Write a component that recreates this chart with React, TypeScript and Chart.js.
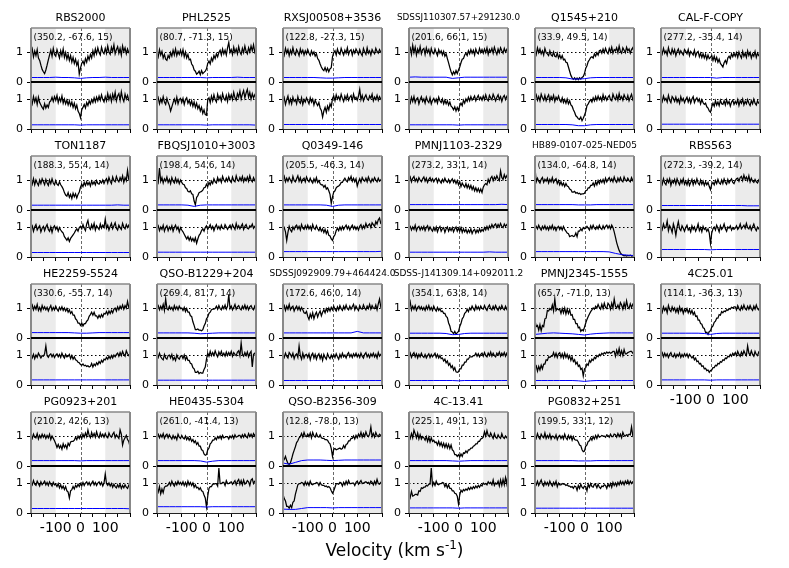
import React, { useEffect, useRef } from 'react';
import { Chart, registerables } from 'chart.js';

Chart.register(...registerables);

// ---------- axes / grid values ----------
const VELOCITY_MIN = -200;
const VELOCITY_STEP = 5; // flux sampling (km/s)
const ERR_STEP = 25; // error-spectrum sampling (km/s)
const X_TICKS = [-200, -150, -100, -50, 0, 50, 100, 150, 200];
const X_TICK_LABELS = [-100, 0, 100];
const Y_TICKS = [0, 1];
const SHADE_BANDS = [[-200, -100], [100, 200]];
const TOP_YMAX = 1.8;
const BOT_YMAX = 1.567;

// ---------- panel names / annotations ----------
const NAMES = [
  'RBS2000', 'PHL2525', 'RXSJ00508+3536', 'SDSSJ110307.57+291230.0', 'Q1545+210', 'CAL-F-COPY',
  'TON1187', 'FBQSJ1010+3003', 'Q0349-146', 'PMNJ1103-2329', 'HB89-0107-025-NED05', 'RBS563',
  'HE2259-5524', 'QSO-B1229+204', 'SDSSJ092909.79+464424.0', 'SDSS-J141309.14+092011.2', 'PMNJ2345-1555', '4C25.01',
  'PG0923+201', 'HE0435-5304', 'QSO-B2356-309', '4C-13.41', 'PG0832+251',
];
const ANNOTATIONS = [
  '(350.2, -67.6, 15)', '(80.7, -71.3, 15)', '(122.8, -27.3, 15)', '(201.6, 66.1, 15)', '(33.9, 49.5, 14)', '(277.2, -35.4, 14)',
  '(188.3, 55.4, 14)', '(198.4, 54.6, 14)', '(205.5, -46.3, 14)', '(273.2, 33.1, 14)', '(134.0, -64.8, 14)', '(272.3, -39.2, 14)',
  '(330.6, -55.7, 14)', '(269.4, 81.7, 14)', '(172.6, 46.0, 14)', '(354.1, 63.8, 14)', '(65.7, -71.0, 13)', '(114.1, -36.3, 13)',
  '(210.2, 42.6, 13)', '(261.0, -41.4, 13)', '(12.8, -78.0, 13)', '(225.1, 49.1, 13)', '(199.5, 33.1, 12)',
];
const TITLE_SIZES = [11, 11, 11, 8.8, 11, 11, 11, 11, 11, 11, 9, 11, 11, 11, 9, 9, 11, 11, 11, 11, 11, 11, 11];

// ---------- normalized flux (x100), v = -200..200 step 5 ----------
const P01_UP = [97,110,84,103,88,108,80,72,56,42,34,28,40,56,74,90,106,86,112,92, 86,108,94,80,104,88,110,82,98,76,92,72,88,66,82,62,76,56,68,26, 46,62,70,58,78,66,86,74,92,80,104,88,110,94,114,98,90,116,100,94, 112,96,120,100,92,116,102,124,94,108,118,96,112,90,120,102,114,94,110,98, 94];
const P01_LO = [98,84,108,90,104,82,106,88,80,72,66,84,70,80,72,90,94,106,92,108, 96,112,88,104,92,110,86,100,84,96,80,94,78,90,72,86,68,80,60,52, 38,64,72,82,70,88,78,94,84,98,88,104,90,106,94,110,96,114,98,90, 108,94,118,98,112,92,116,100,122,94,110,118,96,124,102,92,116,100,112,96, 100];
const P02_UP = [98,84,108,90,102,80,92,76,72,88,80,98,86,106,90,110,88,102,92,106, 90,108,84,100,80,92,74,76,60,54,40,36,26,30,36,24,38,28,32,36, 44,62,70,60,80,70,88,78,94,84,98,106,90,110,94,106,90,114,132,98, 108,92,116,98,110,94,118,100,92,112,98,120,102,94,114,100,120,104,124,100, 112];
const P02_LO = [92,104,84,100,88,108,90,82,102,88,78,60,74,88,100,86,106,84,98,102, 88,102,82,98,104,86,96,80,94,76,90,72,86,68,78,60,72,52,64,48, 46,98,104,88,110,94,114,98,90,116,100,110,94,118,102,96,112,92,116,100, 114,98,122,104,96,118,106,126,100,116,128,104,120,132,106,122,100,118,104,114, 104];
const P03_UP = [104,90,112,96,108,88,106,94,114,96,90,108,100,88,110,96,106,90,104,94, 108,96,88,104,92,100,86,94,78,72,60,50,42,38,48,36,46,34,44,48, 84,98,104,90,110,96,92,112,100,90,106,96,114,92,104,108,90,106,96,110, 102,92,108,96,88,112,100,92,114,96,104,90,108,100,94,112,102,96,108,100, 94];
const P03_LO = [90,104,82,98,110,86,100,84,106,92,98,84,108,92,86,104,82,98,90,104, 94,84,104,90,100,80,96,86,78,88,70,62,40,60,72,56,76,64,84,74, 102,110,94,114,100,108,96,116,102,92,110,98,114,96,106,112,94,116,100,106, 96,110,132,98,112,94,106,114,100,96,110,102,116,94,106,98,112,96,108,100, 94];
const P04_UP = [106,114,92,122,98,116,90,110,98,118,94,108,112,92,114,98,108,90,112,98, 94,110,98,88,108,96,104,90,102,86,94,78,64,48,34,24,34,26,38,28, 40,50,64,76,78,90,96,88,104,94,108,96,106,90,110,98,94,112,98,108, 96,110,98,114,92,108,100,112,96,116,102,92,110,98,114,104,96,112,100,108, 98];
const P04_LO = [94,86,106,92,108,88,100,104,84,98,108,92,100,86,106,94,88,104,84,96, 102,90,100,86,106,94,88,100,84,96,84,94,80,90,76,72,64,74,60,72, 62,78,86,78,96,86,100,92,106,94,108,96,102,110,94,104,112,98,106,96, 110,98,114,100,94,112,104,98,116,106,94,106,114,98,108,92,106,112,98,108, 100];
const P05_UP = [106,92,114,98,110,94,104,90,112,98,94,88,104,90,86,100,86,84,96,80, 90,78,88,74,76,66,64,50,36,22,14,9,14,8,13,8,14,10,15,18, 28,46,54,68,74,82,84,80,94,86,98,90,104,106,96,110,98,112,100,94, 112,100,116,96,108,104,114,98,120,102,96,114,106,98,116,104,110,96,108,114, 100];
const P05_LO = [106,114,96,108,94,116,104,96,112,94,106,114,94,108,98,112,92,106,98,110, 96,90,104,88,98,86,100,84,94,80,76,64,56,44,40,34,32,40,28,36, 46,58,78,84,92,98,90,104,94,108,96,110,98,106,94,114,98,108,96,106, 112,98,94,116,104,98,112,96,118,100,108,96,114,104,98,112,94,106,116,98, 106];
const P06_UP = [108,94,112,96,104,90,114,98,92,110,96,108,88,102,110,94,104,96,90,108, 102,94,108,88,102,96,90,106,86,98,102,84,96,82,94,80,92,76,90,78, 82,88,72,86,70,82,66,76,62,56,50,64,72,62,80,86,78,94,84,96, 86,98,82,100,88,80,102,86,96,82,104,88,98,80,94,86,102,82,96,88, 84];
const P06_LO = [104,92,110,96,102,90,112,96,88,108,102,92,106,90,100,86,108,94,102,88, 98,106,90,102,86,100,108,88,98,104,92,100,84,98,88,82,86,74,70,60, 56,74,86,76,94,80,90,78,96,84,82,94,80,98,84,92,76,90,96,82, 92,84,98,78,94,86,100,80,92,84,98,86,78,94,84,100,86,80,94,86, 84];
const P07_UP = [98,86,104,84,100,90,82,100,88,104,94,84,102,90,82,100,88,104,90,84, 98,86,82,94,84,78,70,58,50,46,58,42,52,38,56,44,54,40,52,60, 76,86,78,92,82,94,84,92,80,96,86,94,84,98,88,86,96,90,100,88, 98,104,90,108,96,88,110,98,94,112,100,94,108,98,114,92,108,98,132,102, 98];
const P07_LO = [98,104,86,100,108,90,98,104,84,96,102,88,100,108,92,86,100,82,98,104, 92,100,86,98,90,84,80,68,62,56,64,52,62,68,74,80,88,94,86,98, 102,94,108,96,88,110,122,98,92,108,96,112,90,104,98,92,110,96,106,98, 126,96,106,90,102,112,94,104,114,96,90,106,98,92,112,100,94,108,98,106, 96];
const P08_UP = [102,92,140,96,108,90,104,96,110,92,102,88,108,96,90,106,92,102,88,100, 92,86,84,74,72,62,60,64,54,52,30,17,42,48,58,60,62,66,74,76, 86,78,92,84,96,88,104,94,90,108,96,104,92,112,100,94,106,96,110,98, 92,110,98,94,114,100,96,108,98,112,94,106,98,110,96,114,100,94,108,98, 106];
const P08_LO = [98,104,88,100,92,106,86,98,104,88,100,92,104,86,98,106,92,100,84,98, 90,84,76,68,60,68,56,66,54,62,52,64,46,60,72,78,88,94,86,98, 104,92,100,108,94,102,88,100,108,94,102,92,106,96,94,108,100,92,100,106, 94,108,100,92,112,96,104,94,102,110,92,102,108,96,94,104,100,110,96,102, 106];
const P09_UP = [102,112,94,106,96,108,100,92,112,98,94,104,114,96,108,92,102,106,94,110, 100,94,106,96,90,104,94,108,92,98,88,84,84,76,82,70,74,64,52,22, 44,60,64,74,78,80,84,92,92,100,106,98,94,108,100,112,96,106,94,104, 80,94,104,92,108,100,96,106,94,110,100,92,104,96,108,100,94,106,96,100, 106];
const P09_LO = [90,98,84,55,82,102,90,84,100,92,102,106,94,102,90,108,96,92,104,94, 106,94,102,90,108,96,92,104,94,88,98,86,94,82,92,78,88,72,70,60, 55,68,74,88,96,88,100,90,102,92,100,106,94,102,90,100,106,94,102,92, 100,90,102,108,94,104,96,112,100,106,110,98,114,108,102,118,110,124,130,112, 108];
const P10_UP = [102,110,94,106,112,96,104,94,108,100,94,104,110,96,106,92,102,108,96,104, 94,102,106,92,104,96,90,102,94,106,96,92,102,90,98,104,92,100,88,98, 84,94,78,90,82,76,88,74,84,72,82,68,78,64,74,62,72,60,70,58, 76,84,88,84,102,92,106,112,98,110,102,114,104,98,130,108,102,118,106,114, 104];
const P10_LO = [98,102,90,100,92,106,88,98,102,90,100,92,102,88,98,104,90,100,92,86, 98,88,100,84,96,102,86,94,98,82,94,100,86,96,88,98,84,94,100,86, 96,86,98,82,94,84,92,80,90,82,94,78,88,92,80,90,82,94,84,92, 86,98,90,102,92,104,96,108,98,106,110,98,108,100,112,102,98,110,102,108, 102];
const P11_UP = [140,94,106,96,90,102,108,92,102,96,106,90,102,94,108,92,100,104,88,98, 84,94,82,90,78,88,80,78,70,68,60,60,62,56,58,54,56,52,54,54, 56,64,66,74,74,82,82,90,80,94,84,98,88,100,92,102,90,106,94,102, 108,96,104,94,110,98,92,106,96,108,98,94,110,100,96,106,98,94,108,98, 106];
const P11_LO = [92,102,94,106,96,90,102,94,104,92,100,90,102,94,106,92,100,88,98,102, 92,100,90,102,92,86,80,78,68,70,72,68,70,80,68,86,86,94,88,98, 94,96,102,96,90,104,94,106,96,92,102,94,106,96,92,104,94,102,106,96, 104,94,106,98,84,66,48,34,22,14,9,6,4,5,3,5,4,6,3,4, 4];
const P12_UP = [98,86,104,90,84,102,92,104,82,98,90,102,86,104,92,84,100,90,104,86, 96,84,100,82,92,102,84,98,88,104,90,84,100,86,96,82,94,84,92,78, 68,86,92,84,98,88,102,90,86,100,88,104,92,86,102,90,98,104,92,88, 98,104,106,96,108,112,98,116,102,110,98,114,94,106,96,92,102,94,90,100, 92];
const P12_LO = [104,92,110,96,100,120,88,104,96,82,110,96,72,100,118,94,88,104,96,86, 98,106,90,96,84,104,92,100,86,96,110,88,98,84,102,92,96,86,94,80, 45,80,94,100,90,106,96,84,104,92,98,110,94,86,100,96,104,90,98,92, 96,104,92,98,110,94,100,106,96,112,98,94,104,90,100,110,96,88,100,94, 90];
const P13_UP = [102,110,94,106,96,112,92,102,90,108,96,104,94,102,90,100,108,92,102,94, 106,96,90,102,94,104,92,100,90,98,86,94,82,88,76,76,64,60,50,50, 42,50,40,48,48,56,60,72,78,86,76,86,74,74,66,76,68,78,70,82, 80,88,78,90,82,92,84,96,100,90,104,94,106,98,110,96,108,100,122,102, 110];
const P13_LO = [98,90,102,88,100,92,106,98,90,98,96,104,130,98,92,100,104,94,102,92, 100,104,94,102,92,106,96,90,102,94,96,102,88,98,86,94,84,82,76,74, 68,66,70,64,66,62,64,60,62,72,60,70,64,74,68,78,72,82,76,86, 84,92,86,96,88,98,90,100,94,102,106,96,108,98,112,102,96,114,104,98, 106];
const P14_UP = [102,108,94,106,96,112,92,130,98,94,106,96,102,92,108,96,104,94,106,98, 100,92,102,88,98,86,86,74,72,54,42,28,28,30,26,26,24,28,40,48, 64,70,82,86,94,96,96,98,106,96,108,98,94,106,98,110,96,106,145,98, 106,94,102,112,96,104,108,98,94,106,98,110,96,106,94,104,108,98,94,106, 98];
const P14_LO = [102,92,106,94,88,84,102,90,86,98,100,90,102,84,92,82,100,90,86,96, 98,88,100,84,94,82,82,72,70,58,54,42,42,46,38,42,40,40,52,60, 86,106,96,112,98,108,98,114,102,94,110,100,112,98,106,96,110,98,108,100, 112,96,108,102,98,110,114,98,140,102,96,108,98,110,94,106,112,60,102,106, 98];
const P15_UP = [102,108,92,106,96,112,94,102,106,90,100,106,94,104,92,102,94,84,82,88, 72,62,80,68,84,64,78,86,70,82,90,74,86,94,84,98,88,100,90,102, 94,106,96,90,104,94,108,98,92,106,96,110,98,94,106,96,104,112,94,106, 98,92,108,98,96,110,100,94,106,98,112,96,108,100,98,110,94,114,130,104, 112];
const P15_LO = [102,92,106,96,90,108,102,94,106,88,100,104,92,130,98,86,106,90,100,102, 92,104,84,100,106,90,102,86,98,104,88,100,82,102,92,86,104,94,88,100, 90,102,92,104,94,86,102,92,106,94,100,90,102,108,94,102,92,104,96,106, 94,102,92,106,96,90,102,108,94,102,92,104,96,106,94,102,90,108,96,102, 106];
const P16_UP = [102,120,94,106,96,108,92,102,106,96,104,94,102,92,106,96,108,94,102,92, 106,96,90,102,92,98,88,90,82,82,72,68,50,40,22,20,14,22,13,18, 22,38,48,64,70,82,86,96,88,100,94,106,98,92,108,96,104,94,106,98, 96,108,98,92,104,110,98,94,106,96,108,98,92,104,96,108,98,94,106,96, 104];
const P16_LO = [96,106,92,102,108,94,104,90,102,94,106,96,92,102,90,98,104,92,102,94, 100,106,92,102,90,98,88,90,80,86,74,80,66,72,58,64,50,58,44,42, 44,54,54,66,66,76,76,86,86,94,94,94,98,98,106,96,104,94,102,106, 96,108,98,94,106,98,110,96,106,98,94,106,100,110,96,106,98,108,96,106, 98];
const P17_UP = [58,38,42,26,44,24,42,38,64,66,92,90,98,94,110,90,130,92,98,94, 96,82,98,84,100,80,96,82,94,76,78,62,62,48,48,34,36,22,28,24, 36,50,62,72,80,88,94,100,96,106,100,112,102,96,112,98,116,102,98,116, 110,96,116,100,130,106,100,110,98,118,110,96,116,100,124,104,98,114,102,112, 106];
const P17_LO = [60,64,46,62,50,66,54,70,70,84,82,94,92,96,96,108,94,106,92,104, 108,92,104,90,106,92,102,88,98,82,94,78,84,70,76,62,66,52,56,30, 54,58,70,66,82,76,86,82,92,88,98,94,102,98,106,102,108,104,110,106, 110,106,108,112,112,96,116,102,122,100,114,98,118,104,104,108,110,112,112,106, 108];
const P18_UP = [98,86,104,92,100,84,108,94,88,104,92,100,86,98,84,104,90,98,82,96, 88,98,84,94,82,92,78,86,72,74,60,60,48,46,34,32,18,19,12,22, 24,36,40,52,56,66,66,78,76,88,84,90,88,94,92,98,96,102,100,104, 104,94,108,98,92,106,96,110,98,94,106,96,108,98,92,106,96,110,98,94, 104];
const P18_LO = [102,108,94,106,96,104,92,102,108,96,94,104,92,102,96,106,92,102,94,104, 96,104,92,102,96,90,96,84,90,78,80,70,72,62,64,54,56,48,50,42, 48,50,58,58,66,64,72,70,78,76,84,82,90,88,96,94,102,96,106,100, 108,98,112,102,96,110,100,114,104,98,130,106,100,114,102,96,112,102,98,110, 104];
const P19_UP = [102,92,106,96,94,108,90,102,94,106,96,104,92,102,94,106,88,100,92,84, 74,62,72,60,68,56,74,62,70,58,76,68,80,82,82,86,96,88,100,92, 102,92,106,96,110,98,120,102,94,112,98,108,96,114,100,94,110,98,106,96, 108,98,94,110,100,96,106,112,94,104,98,92,120,106,70,86,94,102,88,82, 65];
const P19_LO = [102,94,108,96,92,106,98,90,104,94,100,106,94,102,92,104,96,90,102,94, 96,88,98,84,94,82,90,78,88,74,70,50,74,78,88,80,92,86,96,88, 98,90,102,92,100,104,94,102,92,100,106,94,102,92,100,104,94,102,90,100, 130,98,92,100,90,98,86,96,88,84,94,86,96,82,92,84,94,86,82,92, 86];
const P20_UP = [102,106,94,104,96,108,92,102,106,94,104,96,90,102,92,98,88,106,96,92, 102,94,90,100,88,96,86,94,82,88,78,84,72,78,66,66,54,52,40,36, 38,54,60,74,78,86,86,94,88,98,92,100,90,102,94,96,98,98,90,100, 94,102,92,104,96,98,102,102,94,104,96,106,98,94,108,98,106,96,108,100, 110];
const P20_LO = [82,70,88,64,80,68,86,90,90,94,102,92,106,96,90,102,94,106,96,102, 94,104,92,102,90,106,94,102,92,100,86,94,84,86,78,84,74,72,60,50, 20,56,82,88,88,96,96,98,98,90,150,98,98,102,102,92,108,98,98,102, 104,96,102,108,94,106,112,96,108,94,110,96,100,108,104,92,110,114,98,106, 108];
const P21_UP = [28,22,32,18,8,5,10,24,40,52,64,78,84,94,98,108,96,112,100,98, 106,98,110,94,112,100,96,108,98,96,104,94,92,92,88,88,86,78,74,58, 32,56,58,54,56,58,60,56,58,68,60,72,74,84,84,92,92,100,90,102, 94,106,98,112,96,108,98,114,102,98,106,130,98,108,96,112,102,98,106,102, 104];
const P21_LO = [62,48,40,22,22,16,26,18,36,40,62,78,94,98,98,102,100,92,104,94, 102,92,106,96,94,98,98,102,100,92,102,94,92,92,88,90,86,88,84,74, 66,74,86,98,98,96,102,100,90,102,94,106,96,108,98,98,100,100,92,102, 106,96,102,108,98,100,102,104,100,102,96,106,102,94,106,96,112,98,96,102, 98];
const P22_UP = [104,92,108,94,120,108,94,110,90,104,90,98,94,86,98,82,96,80,94,82, 86,78,80,70,82,68,78,64,76,62,74,60,72,58,70,54,50,38,38,32, 38,30,40,32,44,42,50,44,54,54,60,60,66,68,74,74,82,82,90,92, 96,114,100,118,102,98,110,100,92,108,96,92,104,96,92,108,96,92,100,94, 94];
const P22_LO = [66,52,72,56,58,62,62,60,74,72,84,82,86,86,92,90,96,96,150,92, 102,92,106,96,94,98,98,102,100,88,96,84,94,82,82,74,74,66,64,56, 30,60,76,70,78,74,80,76,84,78,86,80,88,82,90,84,92,86,94,90, 100,96,98,94,104,98,102,94,110,92,100,96,106,90,110,92,112,94,118,98, 130];
const P23_UP = [102,92,108,96,90,106,98,94,110,92,102,94,106,90,100,98,92,104,88,98, 102,92,100,90,106,94,88,102,92,100,86,98,88,86,86,80,70,68,54,48, 50,66,70,82,84,94,86,98,90,102,92,104,96,98,102,100,100,96,104,102, 96,106,98,98,106,104,96,108,98,106,94,112,102,100,104,102,106,104,130,102, 110];
const P23_LO = [102,94,106,92,102,110,96,90,104,94,102,92,106,96,90,102,94,106,88,100, 94,94,98,96,96,92,94,90,90,86,88,82,90,88,76,92,82,96,86,82, 90,88,74,96,86,98,88,86,96,94,84,96,86,82,90,88,94,92,82,96, 88,98,86,102,92,100,90,102,94,106,96,104,94,106,98,108,96,106,98,104, 102];

// ---------- flux errors (x100), v = -200..200 step 25 ----------
const E01_UP = [15,15,15,15,16,15,15,14,12,14,15,15,16,15,15,15,15];
const E01_LO = [14,14,14,14,14,14,14,14,13,14,14,14,14,14,14,14,14];
const E02_UP = [15,15,15,15,15,15,15,15,14,15,15,15,15,16,15,15,15];
const E02_LO = [14,14,14,14,14,14,14,14,13,14,14,14,14,14,14,14,13];
const E03_UP = [15,15,15,15,15,15,14,13,13,14,15,15,15,15,15,15,15];
const E03_LO = [15,15,15,15,15,15,15,15,15,15,15,15,15,15,15,15,15];
const E04_UP = [16,17,16,16,16,16,16,12,14,16,16,16,16,16,16,16,16];
const E04_LO = [14,14,14,14,14,14,14,14,13,14,14,14,14,14,14,14,14];
const E05_UP = [15,15,15,15,15,14,10,10,11,14,15,15,15,15,15,15,15];
const E05_LO = [15,15,15,15,15,15,14,11,11,14,15,15,15,15,15,15,15];
const E06_UP = [15,15,15,15,15,15,15,15,15,13,15,15,15,15,15,15,15];
const E06_LO = [16,16,16,16,16,16,16,16,16,16,16,16,16,16,16,16,16];
const E07_UP = [16,16,16,16,16,16,16,16,16,16,16,16,16,16,17,16,16];
const E07_LO = [15,15,15,15,15,15,15,15,15,15,15,15,15,15,15,15,15];
const E08_UP = [17,17,17,17,17,16,12,16,17,17,17,17,17,17,17,17,17];
const E08_LO = [16,16,16,16,16,16,16,16,16,16,16,16,16,16,16,16,16];
const E09_UP = [17,17,17,17,17,17,17,16,12,16,17,17,17,17,17,17,17];
const E09_LO = [18,18,18,18,18,18,18,18,18,18,18,18,18,18,18,18,19];
const E10_UP = [18,18,18,18,18,18,18,18,18,18,18,18,18,18,18,19,18];
const E10_LO = [16,16,16,16,16,16,16,16,16,16,16,16,16,17,16,16,16];
const E11_UP = [18,18,18,18,18,18,18,17,17,17,18,18,18,18,18,18,18];
const E11_LO = [18,18,18,18,18,18,18,18,18,18,18,18,17,12,8,6,5];
const E12_UP = [15,15,15,15,15,15,15,15,15,15,15,15,15,15,14,14,14];
const E12_LO = [25,25,25,25,25,25,25,25,24,25,25,25,25,25,25,25,25];
const E13_UP = [18,18,18,18,18,18,18,17,16,16,17,18,18,18,18,18,18];
const E13_LO = [17,17,17,17,17,17,17,17,17,17,17,17,17,17,17,17,17];
const E14_UP = [17,17,17,17,17,17,16,14,15,16,17,17,17,17,17,17,17];
const E14_LO = [16,16,16,16,16,16,16,16,16,16,16,16,16,16,16,16,16];
const E15_UP = [17,17,17,17,17,17,17,17,17,17,17,17,22,17,17,17,17];
const E15_LO = [15,15,15,15,15,15,15,15,15,15,15,15,15,15,15,15,15];
const E16_UP = [16,16,16,16,16,16,15,11,12,15,16,16,16,16,16,16,16];
const E16_LO = [15,15,15,15,15,15,15,15,14,15,15,15,15,15,15,15,15];
const E17_UP = [12,14,16,17,16,15,14,12,10,13,15,16,17,17,17,17,17];
const E17_LO = [15,15,15,15,15,15,15,14,12,14,15,15,15,15,15,15,15];
const E18_UP = [16,16,16,16,16,16,16,15,12,15,16,16,16,16,16,16,16];
const E18_LO = [17,17,17,17,17,17,17,17,16,17,17,17,17,17,17,17,17];
const E19_UP = [18,18,18,18,18,18,18,18,17,18,18,18,18,18,18,18,18];
const E19_LO = [15,15,15,15,15,15,15,15,15,15,15,15,15,15,15,15,14];
const E20_UP = [18,18,18,18,18,18,18,17,13,16,18,18,18,18,18,18,18];
const E20_LO = [21,21,21,21,21,21,21,21,20,21,21,21,21,21,21,21,21];
const E21_UP = [10,6,12,18,20,20,20,19,18,19,20,20,20,20,20,20,20];
const E21_LO = [13,12,12,15,18,18,18,18,17,18,18,18,18,18,18,18,18];
const E22_UP = [18,18,18,18,18,18,18,17,16,17,18,18,18,18,18,18,18];
const E22_LO = [17,17,17,17,17,17,17,17,16,17,17,17,17,17,17,17,17];
const E23_UP = [18,18,18,18,18,18,18,17,17,17,18,18,18,18,18,18,18];
const E23_LO = [16,16,16,16,16,16,16,16,16,16,16,16,16,16,16,16,16];

const FLUX_UP = [P01_UP,P02_UP,P03_UP,P04_UP,P05_UP,P06_UP,P07_UP,P08_UP,P09_UP,P10_UP,P11_UP,P12_UP,P13_UP,P14_UP,P15_UP,P16_UP,P17_UP,P18_UP,P19_UP,P20_UP,P21_UP,P22_UP,P23_UP];
const FLUX_LO = [P01_LO,P02_LO,P03_LO,P04_LO,P05_LO,P06_LO,P07_LO,P08_LO,P09_LO,P10_LO,P11_LO,P12_LO,P13_LO,P14_LO,P15_LO,P16_LO,P17_LO,P18_LO,P19_LO,P20_LO,P21_LO,P22_LO,P23_LO];
const ERR_UP = [E01_UP,E02_UP,E03_UP,E04_UP,E05_UP,E06_UP,E07_UP,E08_UP,E09_UP,E10_UP,E11_UP,E12_UP,E13_UP,E14_UP,E15_UP,E16_UP,E17_UP,E18_UP,E19_UP,E20_UP,E21_UP,E22_UP,E23_UP];
const ERR_LO = [E01_LO,E02_LO,E03_LO,E04_LO,E05_LO,E06_LO,E07_LO,E08_LO,E09_LO,E10_LO,E11_LO,E12_LO,E13_LO,E14_LO,E15_LO,E16_LO,E17_LO,E18_LO,E19_LO,E20_LO,E21_LO,E22_LO,E23_LO];

// ---------- layout ----------
const COL_LEFT = [31, 157, 283, 409, 535, 661];
const ROW_TOP = [28, 156, 284, 412];
const PANEL_W = 99;
const TOP_H = 54;
const BOT_H = 47;
const PAD_L = 30;
const PAD_T = 24;
const PAD_R = 30;
const AXIS_H = 30;
const CANVAS_W = PAD_L + PANEL_W + PAD_R;
const CANVAS_H = PAD_T + TOP_H + BOT_H + AXIS_H;
const FONT = '"DejaVu Sans", Verdana, sans-serif';

function toPoints(vals: number[], step: number) {
  return vals.map((v, i) => ({ x: VELOCITY_MIN + i * step, y: v / 100 }));
}

const decorPlugin = {
  id: 'decor',
  beforeDatasetsDraw(chart: any) {
    const { ctx, chartArea, scales } = chart;
    const x = scales.x;
    ctx.save();
    ctx.fillStyle = '#ebebeb';
    for (const [a, b] of SHADE_BANDS) {
      const x0 = x.getPixelForValue(a);
      const x1 = x.getPixelForValue(b);
      ctx.fillRect(x0, chartArea.top, x1 - x0, chartArea.bottom - chartArea.top);
    }
    ctx.setLineDash([1.5, 2.5]);
    ctx.strokeStyle = '#000';
    ctx.lineWidth = 1.2;
    for (const id of ['yTop', 'yBot']) {
      const y = Math.round(scales[id].getPixelForValue(1)) + 0.5;
      ctx.beginPath();
      ctx.moveTo(chartArea.left, y);
      ctx.lineTo(chartArea.right, y);
      ctx.stroke();
    }
    ctx.setLineDash([3, 2]);
    ctx.strokeStyle = '#444';
    ctx.lineWidth = 0.8;
    const xz = Math.round(x.getPixelForValue(0)) + 0.5;
    ctx.beginPath();
    ctx.moveTo(xz, chartArea.top);
    ctx.lineTo(xz, chartArea.bottom);
    ctx.stroke();
    ctx.restore();
  },
  afterDraw(chart: any, _args: any, opts: any) {
    const { ctx, chartArea, scales } = chart;
    const L = chartArea.left, R = chartArea.right;
    const T = scales.yTop.top, M = scales.yTop.bottom, B = scales.yBot.bottom;
    ctx.save();
    ctx.setLineDash([]);
    ctx.strokeStyle = '#888';
    ctx.lineWidth = 2;
    ctx.beginPath();
    ctx.moveTo(L, T); ctx.lineTo(L, B);
    ctx.moveTo(R, T); ctx.lineTo(R, B);
    ctx.stroke();
    ctx.lineWidth = 1.3;
    ctx.beginPath();
    ctx.moveTo(L, T); ctx.lineTo(R, T);
    ctx.stroke();
    ctx.strokeStyle = '#000';
    ctx.lineWidth = 2;
    ctx.beginPath();
    ctx.moveTo(L, M); ctx.lineTo(R, M);
    ctx.stroke();
    ctx.lineWidth = 1;
    ctx.strokeStyle = '#222';
    ctx.beginPath();
    ctx.moveTo(L, B + 0.5); ctx.lineTo(R, B + 0.5);
    ctx.stroke();
    ctx.fillStyle = '#000';
    ctx.textAlign = 'center';
    ctx.textBaseline = 'middle';
    ctx.font = `${opts.titleSize}px ${FONT}`;
    ctx.fillText(opts.title, (L + R) / 2, T - 10);
    ctx.textAlign = 'left';
    ctx.font = `9px ${FONT}`;
    ctx.fillText(opts.note, L + 2.5, T + 10);
    ctx.restore();
  },
};

function yScale(stackWeight: number, weight: number, max: number) {
  return {
    type: 'linear',
    position: 'left',
    stack: 'flux',
    stackWeight,
    weight,
    min: 0,
    max,
    afterBuildTicks: (s: any) => { s.ticks = Y_TICKS.map((v) => ({ value: v })); },
    afterFit: (s: any) => { s.width = PAD_L; },
    ticks: { color: '#000', font: { family: FONT, size: 11 }, padding: 4, callback: (v: any) => String(v) },
    grid: { drawOnChartArea: false, drawTicks: true, tickLength: 4, color: '#000', lineWidth: 1 },
    border: { display: false },
  };
}

function makeConfig(p: number, showX: boolean): any {
  const line = (data: any, axis: string, color: string, width: number) => ({
    data, yAxisID: axis, borderColor: color, borderWidth: width, pointRadius: 0, tension: 0, fill: false,
  });
  return {
    type: 'line',
    data: {
      datasets: [
        line(toPoints(ERR_UP[p], ERR_STEP), 'yTop', '#0000ff', 1),
        line(toPoints(FLUX_UP[p], VELOCITY_STEP), 'yTop', '#000000', 1.25),
        line(toPoints(ERR_LO[p], ERR_STEP), 'yBot', '#0000ff', 1),
        line(toPoints(FLUX_LO[p], VELOCITY_STEP), 'yBot', '#000000', 1.25),
      ],
    },
    options: {
      animation: false,
      responsive: false,
      maintainAspectRatio: false,
      events: [],
      layout: { padding: { left: 0, top: PAD_T, right: PAD_R, bottom: 0 } },
      plugins: {
        legend: { display: false },
        tooltip: { enabled: false },
        decor: { title: NAMES[p], note: ANNOTATIONS[p], titleSize: TITLE_SIZES[p] },
      },
      scales: {
        x: {
          type: 'linear',
          position: 'bottom',
          min: X_TICKS[0],
          max: X_TICKS[X_TICKS.length - 1],
          afterBuildTicks: (s: any) => { s.ticks = X_TICKS.map((v) => ({ value: v })); },
          afterFit: (s: any) => { s.height = AXIS_H; },
          ticks: {
            autoSkip: false,
            maxRotation: 0,
            color: '#000',
            padding: 3,
            font: { family: FONT, size: 14 },
            callback: (v: any) => (showX && X_TICK_LABELS.includes(v) ? String(v) : ''),
          },
          grid: { drawOnChartArea: false, drawTicks: true, tickLength: 4, color: '#000', lineWidth: 1 },
          border: { display: false },
        },
        yTop: yScale(TOP_H, 1, TOP_YMAX),
        yBot: yScale(BOT_H, 0, BOT_YMAX),
      },
    },
    plugins: [decorPlugin],
  };
}

export default function App() {
  const refs = useRef<(HTMLCanvasElement | null)[]>([]);
  useEffect(() => {
    const charts: Chart[] = [];
    NAMES.forEach((_, p) => {
      const c = refs.current[p];
      if (!c) return;
      const row = Math.floor(p / 6);
      const col = p % 6;
      const showX = row === 3 || (row === 2 && col === 5);
      charts.push(new Chart(c, makeConfig(p, showX)));
    });
    return () => charts.forEach((ch) => ch.destroy());
  }, []);

  return (
    <div style={{ position: 'absolute', left: 0, top: 0, width: 789, height: 568, background: '#fff', overflow: 'hidden' }}>
      {NAMES.map((name, p) => {
        const row = Math.floor(p / 6);
        const col = p % 6;
        return (
          <canvas
            key={name}
            ref={(el) => { refs.current[p] = el; }}
            width={CANVAS_W}
            height={CANVAS_H}
            style={{ position: 'absolute', left: COL_LEFT[col] - PAD_L, top: ROW_TOP[row] - PAD_T, width: CANVAS_W, height: CANVAS_H }}
          />
        );
      })}
      <div style={{ position: 'absolute', left: 0, top: 539, width: 789, textAlign: 'center', fontFamily: FONT, fontSize: 17, color: '#000', lineHeight: '22px' }}>
        Velocity (km s<sup style={{ fontSize: 12, lineHeight: 0 }}>-1</sup>)
      </div>
    </div>
  );
}
